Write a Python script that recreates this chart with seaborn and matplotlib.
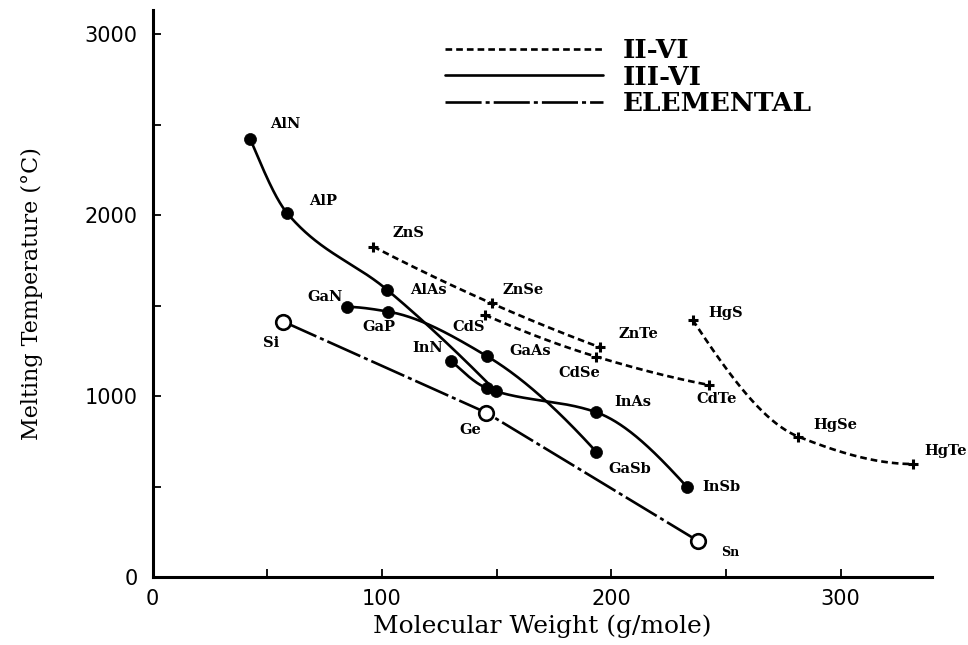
import numpy as np
import pandas as pd
import matplotlib
matplotlib.use("Agg")
import matplotlib.pyplot as plt
from matplotlib.lines import Line2D
from matplotlib.ticker import MultipleLocator
import seaborn as sns

# III-V compounds, one curve per group-III element
al_names = ["AlN", "AlP", "AlAs", "AlSb"]
al_mw = [42.6, 58.7, 102.3, 149.5]
al_tm = [2418, 2010, 1587, 1030]

ga_names = ["GaN", "GaP", "GaAs", "GaSb"]
ga_mw = [84.6, 102.8, 145.7, 193.4]
ga_tm = [1494, 1467, 1222, 694]

in_names = ["InN", "InP", "InAs", "InSb"]
in_mw = [130.0, 145.9, 193.4, 232.9]
in_tm = [1197, 1044, 912, 501]

# II-VI compounds, one curve per group-II element
zn_names = ["ZnS", "ZnSe", "ZnTe"]
zn_mw = [96.2, 147.8, 195.1]
zn_tm = [1826, 1513, 1270]

cd_names = ["CdS", "CdSe", "CdTe"]
cd_mw = [144.9, 193.3, 242.8]
cd_tm = [1449, 1219, 1062]

hg_names = ["HgS", "HgSe", "HgTe"]
hg_mw = [235.5, 281.6, 331.7]
hg_tm = [1421, 777, 626]

# elemental semiconductors
el_names = ["Si", "Ge", "Sn"]
el_mw = [57.0, 145.4, 238.0]
el_tm = [1412, 910, 200]

legend_labels = ["II-VI", "III-VI", "ELEMENTAL"]

# label placement: offset from the marker in pixels (right, up)
label_offsets = {
    "AlN": (35, 15), "AlP": (36, 12), "AlAs": (41, 0),
    "GaN": (-22, 10), "GaP": (-10, -15), "GaAs": (43, 5), "GaSb": (34, -17),
    "InN": (-23, 13), "InAs": (37, 10), "InSb": (35, 0),
    "ZnS": (35, 14), "ZnSe": (32, 13), "ZnTe": (38, 13),
    "CdS": (-16, -12), "CdSe": (-17, -16), "CdTe": (7, -14),
    "HgS": (33, 7), "HgSe": (37, 12), "HgTe": (32, 13),
    "Si": (-12, -21), "Ge": (-16, -17), "Sn": (32, -11),
}
small_labels = {"Sn"}


def pchip_curve(x, y, n=300):
    """Shape-preserving piecewise cubic through the points."""
    x = np.asarray(x, float)
    y = np.asarray(y, float)
    k = len(x)
    h = np.diff(x)
    d = np.diff(y) / h
    m = np.zeros(k)
    for i in range(1, k - 1):
        if d[i - 1] * d[i] <= 0:
            m[i] = 0.0
        else:
            w1 = 2 * h[i] + h[i - 1]
            w2 = h[i] + 2 * h[i - 1]
            m[i] = (w1 + w2) / (w1 / d[i - 1] + w2 / d[i])

    def end_slope(h0, h1, d0, d1):
        s = ((2 * h0 + h1) * d0 - h0 * d1) / (h0 + h1)
        if np.sign(s) != np.sign(d0):
            return 0.0
        if np.sign(d0) != np.sign(d1) and abs(s) > abs(3 * d0):
            return 3 * d0
        return s

    m[0] = end_slope(h[0], h[1], d[0], d[1])
    m[-1] = end_slope(h[-1], h[-2], d[-1], d[-2])
    xs = np.linspace(x[0], x[-1], n)
    idx = np.clip(np.searchsorted(x, xs) - 1, 0, k - 2)
    hh = h[idx]
    t = (xs - x[idx]) / hh
    h00 = 2 * t ** 3 - 3 * t ** 2 + 1
    h10 = t ** 3 - 2 * t ** 2 + t
    h01 = -2 * t ** 3 + 3 * t ** 2
    h11 = t ** 3 - t ** 2
    ys = (h00 * y[idx] + h10 * hh * m[idx]
          + h01 * y[idx + 1] + h11 * hh * m[idx + 1])
    return xs, ys


sns.set_theme(style="white")
plt.rcParams["lines.scale_dashes"] = False
plt.rcParams["font.family"] = ["DejaVu Sans"]
for key in ("text.color", "axes.labelcolor", "xtick.color", "ytick.color",
            "axes.edgecolor"):
    plt.rcParams[key] = "black"

fig = plt.figure(figsize=(9.68, 6.45), dpi=100)
ax = fig.add_axes([0.1577, 0.1047, 0.8048, 0.8798])

lw = 1.9
dashed = (0, (4.8, 2.9))
dashdot = (0, (26, 2.9, 2.9, 2.9))

# smooth curves
for mw, tm in [(al_mw, al_tm), (ga_mw, ga_tm), (in_mw, in_tm)]:
    xs, ys = pchip_curve(mw, tm)
    sns.lineplot(x=xs, y=ys, ax=ax, color="black", lw=lw, sort=False,
                 estimator=None)
for mw, tm in [(zn_mw, zn_tm), (cd_mw, cd_tm), (hg_mw, hg_tm)]:
    xs, ys = pchip_curve(mw, tm)
    sns.lineplot(x=xs, y=ys, ax=ax, color="black", lw=lw, sort=False,
                 estimator=None, linestyle=dashed)
sns.lineplot(x=el_mw, y=el_tm, ax=ax, color="black", lw=lw, sort=False,
             estimator=None, linestyle=dashdot)

# markers
iii_v = pd.DataFrame({"name": al_names + ga_names + in_names,
                      "mw": al_mw + ga_mw + in_mw,
                      "tm": al_tm + ga_tm + in_tm})
ii_vi = pd.DataFrame({"name": zn_names + cd_names + hg_names,
                      "mw": zn_mw + cd_mw + hg_mw,
                      "tm": zn_tm + cd_tm + hg_tm})
elem = pd.DataFrame({"name": el_names, "mw": el_mw, "tm": el_tm})

sns.scatterplot(data=iii_v, x="mw", y="tm", ax=ax, s=75, color="black",
                edgecolor="black", linewidth=0.5, zorder=5)
sns.scatterplot(data=ii_vi, x="mw", y="tm", ax=ax, s=55, marker="+",
                color="black", linewidth=2.2, zorder=5)
sns.scatterplot(data=elem, x="mw", y="tm", ax=ax, s=110, facecolor="white",
                edgecolor="black", linewidth=1.9, zorder=5)

# compound names
for df in (iii_v, ii_vi, elem):
    for name, x, y in zip(df["name"], df["mw"], df["tm"]):
        if name not in label_offsets:
            continue
        dx, dy = label_offsets[name]
        ax.annotate(name, (x, y), xytext=(dx * 0.72, dy * 0.72),
                    textcoords="offset points", ha="center", va="center",
                    fontsize=9 if name in small_labels else 10.5,
                    family="DejaVu Serif", weight="bold", color="black",
                    annotation_clip=False, zorder=6)

ax.set_xlim(0, 339.7)
ax.set_ylim(0, 3132)
ax.xaxis.set_major_locator(MultipleLocator(100))
ax.xaxis.set_minor_locator(MultipleLocator(50))
ax.yaxis.set_major_locator(MultipleLocator(1000))
ax.yaxis.set_minor_locator(MultipleLocator(500))
ax.tick_params(which="both", direction="in", length=6, width=1.3,
               color="black", left=True, bottom=True)
ax.tick_params(axis="y", which="major", pad=11, labelsize=15,
               labelcolor="black")
ax.tick_params(axis="x", which="major", pad=8, labelsize=15,
               labelcolor="black")
for side in ("top", "right"):
    ax.spines[side].set_visible(False)
for side in ("left", "bottom"):
    ax.spines[side].set_color("black")
    ax.spines[side].set_linewidth(2.2)
ax.grid(False)

ax.set_xlabel("Molecular Weight (g/mole)", family="DejaVu Serif",
              fontsize=18, labelpad=4, color="black")
ax.set_ylabel("Melting Temperature (°C)", family="DejaVu Serif",
              fontsize=16, labelpad=30, color="black")

handles = [Line2D([], [], color="black", lw=lw, linestyle=dashed),
           Line2D([], [], color="black", lw=lw, linestyle="-"),
           Line2D([], [], color="black", lw=lw, linestyle=dashdot)]
leg = ax.legend(handles, legend_labels, loc="upper left",
                bbox_to_anchor=(0.375, 0.95), frameon=False, borderpad=0,
                borderaxespad=0, handlelength=6.0, handletextpad=0.75,
                labelspacing=0.05, prop={"family": "DejaVu Serif", "size": 19,
                                         "weight": "bold"})
for txt in leg.get_texts():
    txt.set_color("black")

fig.savefig("out.png", dpi=100)
